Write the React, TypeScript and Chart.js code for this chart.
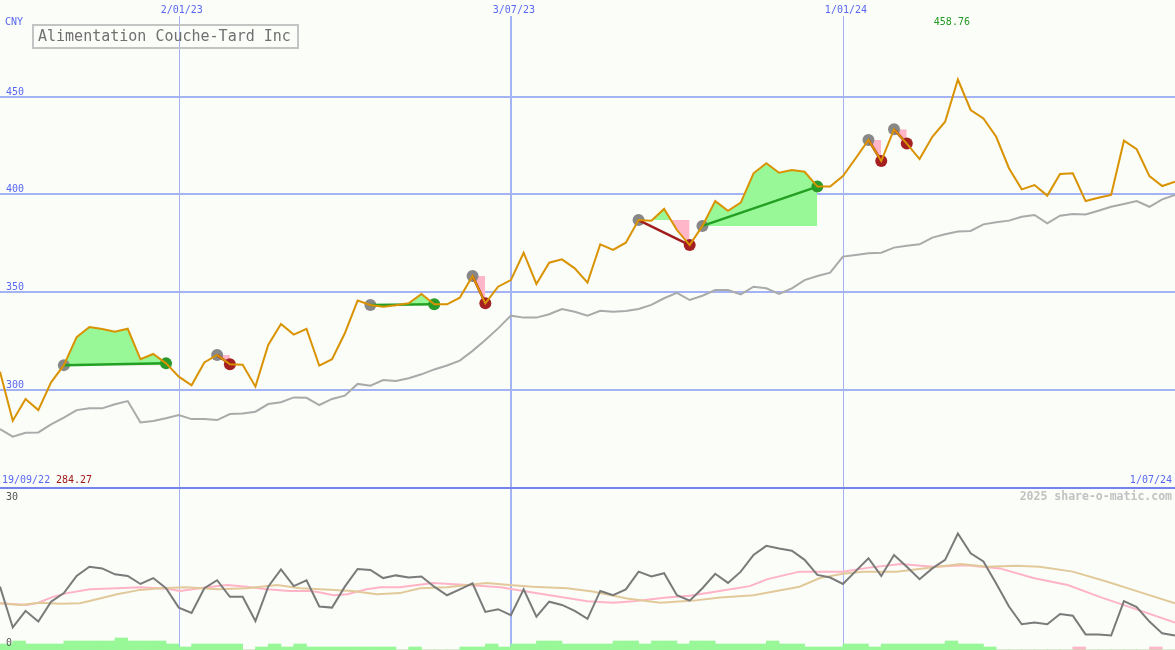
import React, { useEffect, useRef } from 'react';
import { Chart, registerables } from 'chart.js';

Chart.register(...registerables);

// ---------- data ----------
const title = 'Alimentation Couche-Tard Inc';
const currency = 'CNY';
const startLabel = '19/09/22';
const endLabel = '1/07/24';
const dateTicks = ['2/01/23', '3/07/23', '1/01/24'];
const dateTickIndex = [14, 40, 66];
const priceTicks = [300, 350, 400, 450];
const oscTicks = [30, 0];
const credit = '2025 share-o-matic.com';

// weekly close
const price = [
  309.3, 284.27, 295.4, 289.7, 303.9, 312.7, 327.0, 332.2, 331.2, 329.8,
  331.3, 315.7, 318.4, 313.6, 306.8, 302.4, 314.1, 317.9, 313.1, 312.9,
  301.7, 323.0, 333.7, 328.3, 331.2, 312.4, 315.7, 329.0, 345.7, 343.5,
  342.6, 343.3, 344.3, 349.1, 343.8, 343.8, 347.2, 358.3, 344.3, 352.8,
  356.2, 370.2, 354.2, 365.1, 366.8, 362.2, 354.9, 374.5, 371.6, 375.3,
  386.9, 386.6, 392.6, 381.8, 374.1, 383.9, 396.6, 391.6, 395.8, 410.8,
  416.0, 411.1, 412.5, 411.6, 404.0, 404.0, 409.4, 418.5, 427.9, 417.1,
  433.3, 426.0, 418.1, 429.5, 437.2, 458.76, 443.2, 438.9, 429.5, 413.4,
  402.6, 404.8, 399.4, 410.5, 410.8, 396.6, 398.3, 399.7, 427.5, 423.1,
  409.4, 404.3, 406.5,
];

// moving average of close
const movingAvg = [
  280.0, 276.1, 278.1, 278.3, 282.4, 285.8, 289.7, 290.6, 290.6, 292.7,
  294.3, 283.4, 284.1, 285.5, 287.2, 285.1, 285.1, 284.6, 287.7, 288.0,
  288.9, 292.8, 293.7, 296.2, 296.0, 292.3, 295.4, 297.1, 303.1, 302.2,
  305.1, 304.6, 306.0, 308.0, 310.5, 312.5, 315.0, 320.0, 325.5, 331.5,
  338.0, 337.0, 337.0, 338.7, 341.4, 340.0, 338.0, 340.5, 340.0, 340.4,
  341.4, 343.5, 346.9, 349.7, 346.0, 348.2, 351.1, 351.1, 348.9, 352.8,
  352.0, 349.1, 352.0, 356.2, 358.3, 360.0, 368.2, 369.0, 369.9, 370.2,
  372.8, 373.8, 374.5, 377.9, 379.6, 381.0, 381.3, 384.7, 385.8, 386.6,
  388.6, 389.5, 385.2, 389.1, 390.0, 389.8, 391.7, 393.7, 395.1, 396.6,
  393.7, 397.5, 399.7,
];

// trades (week index of entry / exit)
const tradeEntries = [5, 17, 29, 37, 50, 55, 68, 70];
const tradeExits = [13, 18, 34, 38, 54, 64, 69, 71];

// lower panel oscillator
const oscillator = [
  11.8, 4.2, 7.3, 5.3, 9.0, 10.6, 13.8, 15.5, 15.2, 14.1,
  13.8, 12.3, 13.4, 11.5, 7.9, 6.9, 11.5, 13.0, 9.9, 9.9,
  5.4, 11.8, 15.0, 11.9, 13.0, 8.1, 7.9, 11.8, 15.1, 14.9,
  13.4, 13.9, 13.5, 13.7, 11.8, 10.2, 11.3, 12.4, 7.1, 7.6,
  6.5, 11.3, 6.2, 9.0, 8.4, 7.3, 5.8, 11.0, 10.2, 11.3,
  14.6, 13.7, 14.3, 10.2, 9.2, 11.5, 14.2, 12.5, 14.6, 17.7,
  19.4, 18.9, 18.5, 16.8, 14.0, 13.5, 12.3, 14.7, 17.1, 13.8,
  17.7, 15.5, 13.2, 15.2, 16.8, 21.7, 18.0, 16.5, 12.4, 8.1,
  4.8, 5.1, 4.8, 6.7, 6.4, 2.9, 2.9, 2.7, 9.1, 8.0,
  5.3, 3.1, 2.7,
];

// [week index, value] readings of the two oscillator averages
const pinkAvg = [
  [0, 8.7], [2.1, 8.4], [3.0, 8.8], [4.15, 9.9], [5.25, 10.6], [7.05, 11.3],
  [9.15, 11.5], [11.0, 11.7], [13.1, 11.4], [14.1, 11.0], [16.2, 11.7],
  [17.8, 12.1], [19.3, 11.8], [20.9, 11.3], [22.7, 11.0], [24.3, 11.0],
  [25.1, 10.7], [26.1, 10.2], [27.2, 10.4], [28.7, 11.3], [29.8, 11.7],
  [31.3, 11.7], [33.9, 12.5], [36.6, 12.1], [39.2, 11.7], [41.7, 10.7],
  [44.4, 9.7], [46.0, 9.1], [48.0, 8.8], [49.6, 9.1], [52.2, 9.8],
  [54.0, 10.1], [56.1, 10.9], [58.7, 11.9], [60.1, 13.2], [62.6, 14.6],
  [66.0, 14.6], [67.9, 15.3], [70.5, 16.0], [73.1, 15.5], [75.7, 15.8],
  [78.3, 15.2], [80.9, 13.4], [83.6, 12.1], [86.1, 9.9], [88.7, 7.8],
  [92, 5.1],
];
const tanAvg = [
  [0, 8.7], [1.57, 8.4], [3.13, 8.8], [4.7, 8.6], [6.26, 8.7], [7.83, 9.6],
  [9.16, 10.4], [10.96, 11.2], [12.5, 11.5], [14.6, 11.7], [17.0, 11.3],
  [19.3, 11.5], [21.7, 12.1], [23.5, 11.5], [25.1, 11.3], [27.6, 11.0],
  [29.5, 10.4], [31.3, 10.6], [32.9, 11.5], [35.0, 11.7], [36.6, 12.1],
  [38.1, 12.5], [39.9, 12.1], [41.7, 11.8], [44.4, 11.5], [46.4, 10.9],
  [49.1, 9.6], [51.7, 8.8], [54.3, 9.2], [56.4, 9.8], [59.0, 10.2],
  [60.8, 11.0], [62.6, 11.8], [64.2, 13.4], [66.0, 14.2], [67.6, 14.6],
  [70.2, 14.6], [73.1, 15.4], [75.2, 16.0], [77.3, 15.5], [79.6, 15.7],
  [81.4, 15.5], [84.0, 14.6], [86.7, 12.7], [88.7, 11.2], [92, 8.7],
];

// volume level bars per week (0..91)
const volumeUp = [
  2, 3, 2, 2, 2, 3, 3, 3, 3, 4, 3, 3, 3, 2, 1, 2, 2, 2, 2, 0,
  1, 2, 1, 2, 1, 1, 1, 1, 1, 1, 1, 0, 1, 0, 0, 0, 1, 1, 2, 1,
  2, 2, 3, 3, 2, 2, 2, 2, 3, 3, 2, 3, 3, 2, 3, 3, 2, 2, 2, 2,
  3, 2, 2, 1, 1, 1, 2, 2, 1, 2, 2, 2, 2, 2, 3, 2, 2, 1, 0, 0,
  0, 0, 0, 0, 0, 0, 0, 0, 0, 0, 0, 0,
];
const volumeDown = [
  0, 0, 0, 0, 0, 0, 0, 0, 0, 0, 0, 0, 0, 0, 0, 0, 0, 0, 0, 0,
  0, 0, 0, 0, 0, 0, 0, 0, 0, 0, 0, 0, 0, 0, 0, 0, 0, 0, 0, 0,
  0, 0, 0, 0, 0, 0, 0, 0, 0, 0, 0, 0, 0, 0, 0, 0, 0, 0, 0, 0,
  0, 0, 0, 0, 0, 0, 0, 0, 0, 0, 0, 0, 0, 0, 0, 0, 0, 0, 0, 0,
  0, 0, 0, 0, 1, 0, 0, 0, 0, 0, 1, 0,
];

// ---------- styles ----------
const BG = '#fbfdf9';
const GRID = '#a3b3f3';
const BLUE_TEXT = '#5868f0';
const ORANGE = '#d99200';
const GREEN_FILL = '#98f898';
const PINK_FILL = '#ffb6c8';
const FONT = '"DejaVu Sans Mono", monospace';

export default function App() {
  const ref = useRef<HTMLCanvasElement | null>(null);

  useEffect(() => {
    document.body.style.margin = '0';
    const canvas = ref.current;
    if (!canvas) return;

    const xy = (arr: number[]) => arr.map((v, i) => ({ x: i, y: v }));
    const pairs = (arr: number[][]) => arr.map((p) => ({ x: p[0], y: p[1] }));
    const tradeRange = (a: number, b: number) => {
      const out: { x: number; y: number }[] = [];
      for (let i = a; i <= b; i++) out.push({ x: i, y: price[i] });
      return out;
    };

    const datasets: any[] = [];

    datasets.push({
      type: 'line', data: xy(price), borderColor: ORANGE, borderWidth: 2,
      pointRadius: 0, tension: 0, order: 0, yAxisID: 'y', fill: false,
    });

    tradeEntries.forEach((e, k) => {
      const x = tradeExits[k];
      const win = price[x] >= price[e];
      datasets.push({
        type: 'line',
        data: [{ x: e, y: price[e] }, { x, y: price[x] }],
        borderColor: win ? '#23a023' : '#a01c1c', borderWidth: 2.5,
        pointRadius: 0, order: 1, yAxisID: 'y', fill: false,
      });
      datasets.push({
        type: 'line',
        data: tradeRange(e, x),
        borderWidth: 0, borderColor: 'rgba(0,0,0,0)', pointRadius: 0,
        fill: { target: { value: price[e] }, above: GREEN_FILL, below: PINK_FILL },
        order: 10, yAxisID: 'y',
      });
    });

    datasets.push({
      type: 'line', data: tradeEntries.map((e) => ({ x: e, y: price[e] })),
      showLine: false, pointRadius: 6, pointBackgroundColor: '#888888',
      pointBorderWidth: 0, order: 2, yAxisID: 'y',
    });
    datasets.push({
      type: 'line', data: tradeExits.map((x) => ({ x, y: price[x] })),
      showLine: false, pointRadius: 6,
      pointBackgroundColor: tradeExits.map((x, k) =>
        price[x] >= price[tradeEntries[k]] ? '#2a9a2a' : '#a52020'),
      pointBorderWidth: 0, order: 2, yAxisID: 'y',
    });

    datasets.push({
      type: 'line', data: xy(movingAvg), borderColor: '#aaaaaa', borderWidth: 2,
      pointRadius: 0, order: 3, yAxisID: 'y', fill: false,
    });

    datasets.push({
      type: 'line', data: xy(oscillator), borderColor: '#7a7a7a', borderWidth: 2,
      pointRadius: 0, order: 4, yAxisID: 'y2', fill: false,
    });
    datasets.push({
      type: 'line', data: pairs(tanAvg), borderColor: '#e2c99a', borderWidth: 2,
      pointRadius: 0, order: 5, yAxisID: 'y2', fill: false,
    });
    datasets.push({
      type: 'line', data: pairs(pinkAvg), borderColor: '#ffb3c6', borderWidth: 2,
      pointRadius: 0, order: 6, yAxisID: 'y2', fill: false,
    });
    datasets.push({
      type: 'bar', data: volumeUp.map((v, i) => ({ x: i + 0.5, y: v })),
      backgroundColor: GREEN_FILL, borderWidth: 0, barPercentage: 1,
      categoryPercentage: 1, grouped: false, order: 12, yAxisID: 'yv',
    });
    datasets.push({
      type: 'bar', data: volumeDown.map((v, i) => ({ x: i + 0.5, y: v })),
      backgroundColor: PINK_FILL, borderWidth: 0, barPercentage: 1,
      categoryPercentage: 1, grouped: false, order: 12, yAxisID: 'yv',
    });

    const overlay = {
      id: 'overlay',
      beforeDraw(chart: any) {
        const c = chart.ctx;
        c.save();
        c.fillStyle = BG;
        c.fillRect(0, 0, chart.width, chart.height);
        c.restore();
      },
      beforeDatasetsDraw(chart: any) {
        const c = chart.ctx;
        const xs = chart.scales.x;
        const ys = chart.scales.y;
        c.save();
        c.strokeStyle = GRID;
        c.lineWidth = 2;
        priceTicks.forEach((v) => {
          const y = Math.round(ys.getPixelForValue(v));
          c.beginPath(); c.moveTo(0, y); c.lineTo(chart.width, y); c.stroke();
        });
        dateTickIndex.forEach((idx, k) => {
          const x = Math.round(xs.getPixelForValue(idx));
          c.lineWidth = k === 1 ? 2 : 1;
          const px = k === 1 ? x : x + 0.5;
          c.beginPath(); c.moveTo(px, 16); c.lineTo(px, chart.height); c.stroke();
        });
        c.strokeStyle = '#7484ec';
        c.lineWidth = 2;
        const sy = Math.round(ys.getPixelForValue(250));
        c.beginPath(); c.moveTo(0, sy); c.lineTo(chart.width, sy); c.stroke();
        c.restore();
      },
      afterDatasetsDraw(chart: any) {
        const c = chart.ctx;
        const xs = chart.scales.x;
        const ys = chart.scales.y;
        const y2 = chart.scales.y2;
        c.save();
        c.textBaseline = 'alphabetic';
        c.font = `10px ${FONT}`;
        c.fillStyle = BLUE_TEXT;
        c.textAlign = 'left';
        c.fillText(currency, 5, 25);
        priceTicks.forEach((v) => {
          c.fillText(String(v), 6, Math.round(ys.getPixelForValue(v)) - 2);
        });
        c.textAlign = 'center';
        dateTicks.forEach((t, k) => {
          c.fillText(t, xs.getPixelForValue(dateTickIndex[k]) + 3, 13);
        });
        let mi = 0;
        price.forEach((v, i) => { if (v > price[mi]) mi = i; });
        let ni = 0;
        price.forEach((v, i) => { if (v < price[ni]) ni = i; });
        c.fillStyle = '#229922';
        c.fillText(price[mi].toFixed(2), xs.getPixelForValue(mi) - 6, 25);
        c.textAlign = 'left';
        c.fillStyle = BLUE_TEXT;
        c.fillText(startLabel, 2, 483);
        c.fillStyle = '#a01818';
        c.fillText(price[ni].toFixed(2), 56, 483);
        c.textAlign = 'right';
        c.fillStyle = BLUE_TEXT;
        c.fillText(endLabel, 1172, 483);
        c.font = `bold 11.5px ${FONT}`;
        c.fillStyle = '#c2c2c2';
        c.fillText(credit, 1172, 500);
        c.font = `10px ${FONT}`;
        c.fillStyle = '#555555';
        c.textAlign = 'left';
        c.fillText(String(oscTicks[0]), 6, Math.round(y2.getPixelForValue(oscTicks[0])) + 11);
        c.fillText(String(oscTicks[1]), 6, Math.round(y2.getPixelForValue(oscTicks[1])) - 4);
        c.strokeStyle = '#c4c4c4';
        c.lineWidth = 2;
        c.strokeRect(33, 25, 265, 23);
        c.font = `15px ${FONT}`;
        c.fillStyle = '#707070';
        c.fillText(title, 38, 41);
        c.restore();
      },
    };

    const chart = new Chart(canvas, {
      type: 'line',
      data: { datasets },
      options: {
        animation: false,
        responsive: false,
        devicePixelRatio: 1,
        layout: { padding: 0, autoPadding: false },
        plugins: { legend: { display: false }, tooltip: { enabled: false } },
        scales: {
          x: { type: 'linear', min: 0, max: price.length - 1, display: false, offset: false },
          y: { type: 'linear', min: 167.0, max: 499.45, display: false },
          y2: { type: 'linear', min: 0, max: 121.1, display: false },
          yv: { type: 'linear', min: 0, max: 216.67, display: false },
        },
      } as any,
      plugins: [overlay],
    } as any);

    return () => chart.destroy();
  }, []);

  return (
    <canvas ref={ref} width={1175} height={650} style={{ display: 'block' }} />
  );
}
